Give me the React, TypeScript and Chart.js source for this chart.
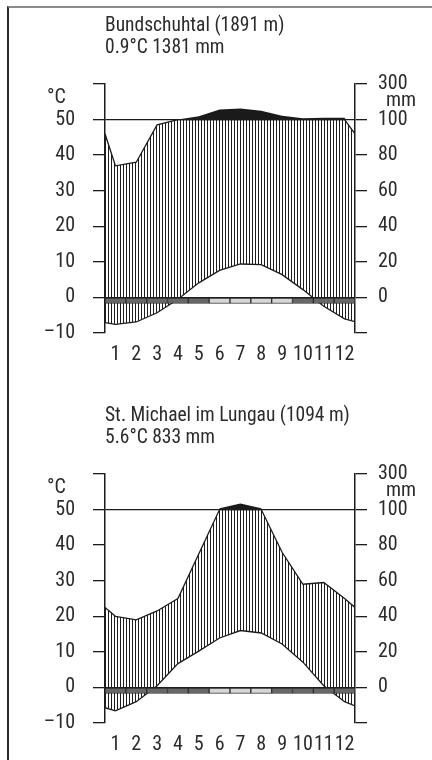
import React, { useEffect, useRef } from 'react';
import { Chart, registerables } from 'chart.js';

Chart.register(...registerables);

// ---------- data ----------
const months = [1, 2, 3, 4, 5, 6, 7, 8, 9, 10, 11, 12];
const monthLabels = ['1', '2', '3', '4', '5', '6', '7', '8', '9', '10', '11', '12'];

const tempTicks = [-10, 0, 10, 20, 30, 40, 50, 60];
const tempTickLabels = ['–10', '0', '10', '20', '30', '40', '50', ''];
const precipTickLabels = ['', '0', '20', '40', '60', '80', '100', '300'];

// Bundschuhtal
const bundTitle = 'Bundschuhtal (1891 m)';
const bundSubtitle = '0.9°C 1381 mm';
const bundTemp = [-7.6, -6.9, -4.3, -0.5, 4.1, 7.6, 9.4, 9.2, 6.4, 2.2, -2.5, -6.0];
const bundTempEdges = [-7.1, -6.8];
const bundPrecip = [74, 76, 97, 100, 118, 156, 162, 150, 122, 107, 110, 110];
const bundPrecipEdges = [92, 92];
const bundFrost = [1, 1, 1, 1, 1, 0, 0, 0, 0, 1, 1, 1];

// St. Michael im Lungau
const stmTitle = 'St. Michael im Lungau (1094 m)';
const stmSubtitle = '5.6°C 833 mm';
const stmTemp = [-6.6, -4.0, 0.5, 6.7, 10.2, 13.9, 16.0, 15.3, 12.2, 7.1, 0.5, -4.0];
const stmTempEdges = [-5.7, -5.2];
const stmPrecip = [40, 38, 43, 50, 75, 108, 134, 108, 76, 58, 59, 50];
const stmPrecipEdges = [45, 45];
const stmFrost = [1, 1, 1, 1, 1, 0, 0, 0, 1, 1, 1, 1];

// ---------- style ----------
const FONT = '"Roboto Condensed", Roboto, sans-serif';
const TEXT = '#2b2b2b';
const INK = '#1c1c1c';

const capped = (p: number) => Math.min(p, 100) / 2;
const compressed = (p: number) => (p <= 100 ? p / 2 : 50 + (p - 100) / 20);

type Props = {
  title: string;
  subtitle: string;
  temp: number[];
  tempEdges: number[];
  precip: number[];
  precipEdges: number[];
  frost: number[];
  height: number;
  xHeight: number;
  padBottom: number;
};

function ClimateChart(props: Props) {
  const ref = useRef<HTMLCanvasElement>(null);
  useEffect(() => {
    const canvas = ref.current!;
    const pc = document.createElement('canvas');
    pc.width = 3;
    pc.height = 4;
    const pctx = pc.getContext('2d')!;
    pctx.fillStyle = '#1e1e1e';
    pctx.fillRect(0, 0, 1, 4);
    const pattern = canvas.getContext('2d')!.createPattern(pc, 'repeat');

    const series = (vals: number[], edges: number[], f: (v: number) => number) => [
      { x: 0.5, y: f(edges[0]) },
      ...vals.map((v, i) => ({ x: months[i], y: f(v) })),
      { x: 12.5, y: f(edges[1]) },
    ];

    const font = { family: FONT, size: 20 };

    const textPlugin = {
      id: 'texts',
      afterDraw(chart: any) {
        const { ctx, chartArea, scales } = chart;
        ctx.save();
        ctx.fillStyle = TEXT;
        ctx.font = `19.5px ${FONT}`;
        ctx.textAlign = 'left';
        ctx.textBaseline = 'alphabetic';
        ctx.fillText(props.title, chartArea.left, 23);
        ctx.fillText(props.subtitle, chartArea.left, 45);
        ctx.font = `20px ${FONT}`;
        ctx.textBaseline = 'middle';
        const y50 = scales.y.getPixelForValue(50);
        ctx.fillText('°C', chartArea.left - 58, y50 - 22);
        const y60 = scales.y.getPixelForValue(60);
        ctx.fillText('mm', chartArea.right + 31, y60 + 17);
        ctx.restore();
      },
    };

    const chart = new Chart(canvas, {
      type: 'line',
      data: {
        datasets: [
          {
            type: 'bar',
            data: months.map((m) => ({ x: m, y: [-1.7, 0] })) as any,
            backgroundColor: props.frost.map((f) => (f ? '#686868' : '#d6d6d6')),
            borderColor: '#2e2e2e',
            borderWidth: 1,
            borderSkipped: false,
            barPercentage: 1,
            categoryPercentage: 1,
            order: 0,
          } as any,
          {
            type: 'line',
            data: series(props.temp, props.tempEdges, (v) => v),
            borderColor: INK,
            borderWidth: 1.3,
            pointRadius: 0,
            tension: 0,
            fill: false,
            order: 1,
          },
          {
            type: 'line',
            data: series(props.precip, props.precipEdges, capped),
            borderColor: INK,
            borderWidth: 1.3,
            pointRadius: 0,
            tension: 0,
            fill: { target: 1, above: pattern as any, below: 'rgba(0,0,0,0)' },
            order: 2,
          },
          {
            type: 'line',
            data: series(props.precip, props.precipEdges, compressed),
            borderColor: 'rgba(0,0,0,0)',
            borderWidth: 1,
            pointRadius: 0,
            tension: 0,
            fill: { value: 50, above: '#1a1a1a', below: 'rgba(0,0,0,0)' },
            order: 3,
          },
        ],
      },
      options: {
        responsive: false,
        animation: false,
        devicePixelRatio: 1,
        layout: { padding: { top: 76, bottom: props.padBottom, left: 0, right: 0 } },
        plugins: {
          legend: { display: false },
          tooltip: { enabled: false },
          title: { display: false },
        },
        scales: {
          x: {
            type: 'linear',
            min: 0.5,
            max: 12.5,
            offset: false,
            afterBuildTicks: (s: any) => {
              s.ticks = months.map((v) => ({ value: v }));
            },
            afterFit: (s: any) => {
              s.height = props.xHeight;
            },
            ticks: {
              autoSkip: false,
              maxRotation: 0,
              minRotation: 0,
              padding: 10,
              font,
              color: TEXT,
              callback: (v: any) => {
                const i = months.indexOf(Number(v));
                return i >= 0 ? monthLabels[i] : '';
              },
            },
            grid: { display: false, drawTicks: false },
            border: { display: false },
          },
          y: {
            position: 'left',
            min: -10,
            max: 60,
            afterBuildTicks: (s: any) => {
              s.ticks = tempTicks.map((v) => ({ value: v }));
            },
            afterFit: (s: any) => {
              s.width = 96;
            },
            ticks: {
              padding: 18,
              font,
              color: TEXT,
              callback: (v: any) => {
                const i = tempTicks.indexOf(Number(v));
                return i >= 0 ? tempTickLabels[i] : '';
              },
            },
            grid: {
              drawOnChartArea: true,
              drawTicks: true,
              tickLength: 12,
              lineWidth: 1.3,
              tickColor: INK,
              color: (c: any) =>
                c.tick && (c.tick.value === 0 || c.tick.value === 50) ? INK : 'rgba(0,0,0,0)',
            },
            border: { display: true, color: INK, width: 1.5 },
          },
          y2: {
            position: 'right',
            min: -10,
            max: 60,
            afterBuildTicks: (s: any) => {
              s.ticks = tempTicks.map((v) => ({ value: v }));
            },
            afterFit: (s: any) => {
              s.width = 77;
            },
            ticks: {
              padding: 11,
              font,
              color: TEXT,
              callback: (v: any) => {
                const i = tempTicks.indexOf(Number(v));
                return i >= 0 ? precipTickLabels[i] : '';
              },
            },
            grid: {
              drawOnChartArea: false,
              drawTicks: true,
              tickLength: 12,
              lineWidth: 1.3,
              tickColor: INK,
              color: INK,
            },
            border: { display: true, color: INK, width: 1.5 },
          },
        } as any,
      },
      plugins: [textPlugin],
    });
    return () => chart.destroy();
  }, []);
  return <canvas ref={ref} width={423} height={props.height} style={{ display: 'block' }} />;
}

export default function App() {
  return (
    <div
      style={{
        position: 'fixed',
        left: 7,
        top: 6,
        width: 425,
        height: 754,
        boxSizing: 'border-box',
        borderTop: '2px solid #8c8c8c',
        borderLeft: '2px solid #2a2a2a',
        overflow: 'hidden',
        background: '#ffffff',
      }}
    >
      <div style={{ position: 'absolute', left: 0, top: 0 }}>
        <ClimateChart
          title={bundTitle}
          subtitle={bundSubtitle}
          temp={bundTemp}
          tempEdges={bundTempEdges}
          precip={bundPrecip}
          precipEdges={bundPrecipEdges}
          frost={bundFrost}
          height={390}
          xHeight={40}
          padBottom={25}
        />
      </div>
      <div style={{ position: 'absolute', left: 0, top: 390 }}>
        <ClimateChart
          title={stmTitle}
          subtitle={stmSubtitle}
          temp={stmTemp}
          tempEdges={stmTempEdges}
          precip={stmPrecip}
          precipEdges={stmPrecipEdges}
          frost={stmFrost}
          height={362}
          xHeight={37}
          padBottom={0}
        />
      </div>
    </div>
  );
}
